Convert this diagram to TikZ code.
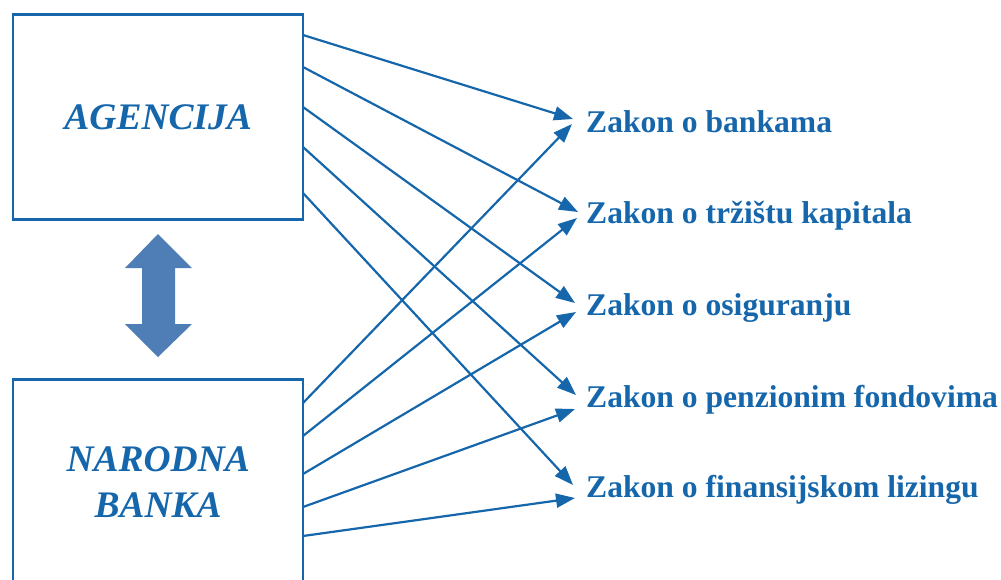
\documentclass[tikz,border=0pt]{standalone}
\usepackage{fontspec}
\setmainfont{Liberation Serif}
\usetikzlibrary{arrows.meta}
\definecolor{lblue}{RGB}{21,102,170}
\definecolor{dblue}{RGB}{79,125,181}
\begin{document}
\begin{tikzpicture}[x=1pt,y=-1pt,
  box/.style={draw=lblue, line width=2.4pt, minimum width=290pt, minimum height=205pt,
    inner sep=0pt, text=lblue, align=center,
    font=\fontsize{37.5}{46}\selectfont\bfseries\itshape},
  law/.style={anchor=base west, inner sep=0pt, text=lblue,
    font=\fontsize{31.6}{36}\selectfont\bfseries},
  link/.style={draw=lblue, line width=2.2pt, -{Triangle[length=19pt,width=14pt]}},
  bigarrow/.style={fill=dblue, draw=none}]
\clip (0,0) rectangle (1001,579);
\node[box] (ag) at (158.2,116.8) {AGENCIJA};
\node[box] (nb) at (158.2,482) {NARODNA\\BANKA};

\node[law] (l1) at (586,132) {Zakon o bankama};
\node[law] (l2) at (586,223) {Zakon o tržištu kapitala};
\node[law] (l3) at (586,315) {Zakon o osiguranju};
\node[law] (l4) at (586,407) {Zakon o penzionim fondovima};
\node[law] (l5) at (586,497) {Zakon o finansijskom lizingu};

% start points on the boxes
\coordinate (a1) at (303,35);
\coordinate (a2) at (303,67);
\coordinate (a3) at (303,107);
\coordinate (a4) at (303,147);
\coordinate (a5) at (303,193);
\coordinate (n1) at (303,403);
\coordinate (n2) at (303,436);
\coordinate (n3) at (303,474);
\coordinate (n4) at (303,507);
\coordinate (n5) at (303,536);
% tips at the labels
\coordinate (ta1) at (573,119);
\coordinate (ta2) at (578,212);
\coordinate (ta3) at (575,303);
\coordinate (ta4) at (576,395);
\coordinate (ta5) at (573,485);
\coordinate (tn1) at (572,124);
\coordinate (tn2) at (577,218);
\coordinate (tn3) at (576,312);
\coordinate (tn4) at (575,409);
\coordinate (tn5) at (575,498);

\foreach \i in {1,...,5}{
  \draw[link] (a\i) -- (ta\i);
  \draw[link] (n\i) -- (tn\i);
}

\fill[bigarrow] (158,234) -- (192,268) -- (175,268) -- (175,324) -- (192,324)
  -- (158,357) -- (125,324) -- (142,324) -- (142,268) -- (125,268) -- cycle;
\end{tikzpicture}
\end{document}
